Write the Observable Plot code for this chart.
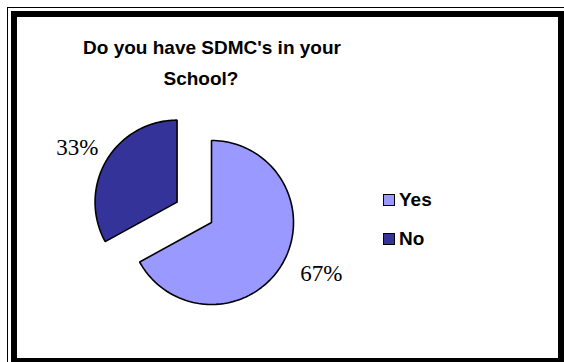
<!DOCTYPE html>
<html><head><meta charset="utf-8">
<script src="https://cdn.jsdelivr.net/npm/d3@7"></script>
<script src="https://cdn.jsdelivr.net/npm/@observablehq/plot@0.6"></script>
<style>
html,body{margin:0;padding:0;background:#fff;}
#wrap{position:relative;width:564px;height:362px;overflow:hidden;background:#fff;}
#wrap svg{position:absolute;left:0;top:0;}
.thin{position:absolute;left:7px;top:7px;width:700px;height:500px;border-left:1.5px solid #000;border-top:1.5px solid #000;}
.thick{position:absolute;left:11px;top:11px;width:553px;height:353px;border:6px solid #000;box-sizing:border-box;}
.title{position:absolute;font:bold 19px "Liberation Sans",Arial,sans-serif;color:#000;white-space:nowrap;transform:translateX(-50%);line-height:1;}
.leg{position:absolute;font:bold 19px "Liberation Sans",Arial,sans-serif;color:#000;white-space:nowrap;line-height:1;display:flex;align-items:center;}
.sw{display:inline-block;width:12px;height:12px;border:1px solid #000;margin-right:4px;box-sizing:border-box;}
</style>
</head><body>
<div id="wrap"></div>
<script>
// ---- data ----
const categories = ["Yes", "No"];
const values = [67, 33];
const labels = ["67%", "33%"];
const colors = ["#9999FF", "#333399"];
const titleLines = ["Do you have SDMC's in your", "School?"];

// ---- layout ----
const W = 564, H = 362;
const cx = 211, cy = 222, R = 82;      // pie centre & radius in px
const explode = [0, 40];               // px offset along mid angle
const labelR = 116;
const labelDx = [10, 0], labelDy = [-8, 5];

const pie = d3.pie().sort(null).value(d => d)(values);
const polys = [];
const labelPts = [];
pie.forEach((p, i) => {
  const mid = (p.startAngle + p.endAngle) / 2;
  const ox = explode[i] * Math.sin(mid) / R, oy = -explode[i] * Math.cos(mid) / R;
  const pts = [{cat: categories[i], x: ox, y: oy}];
  const n = 120;
  for (let k = 0; k <= n; k++) {
    const a = p.startAngle + (p.endAngle - p.startAngle) * k / n;
    pts.push({cat: categories[i], x: ox + Math.sin(a), y: oy - Math.cos(a)});
  }
  pts.push({cat: categories[i], x: ox, y: oy});
  polys.push(pts);
  labelPts.push({label: labels[i],
    x: ox + (labelR * Math.sin(mid) + labelDx[i]) / R,
    y: oy + (-labelR * Math.cos(mid) + labelDy[i]) / R});
});

const chart = Plot.plot({
  width: W, height: H,
  margin: 0,
  x: {domain: [-cx / R, (W - cx) / R], range: [0, W], axis: null},
  y: {domain: [-cy / R, (H - cy) / R], range: [0, H], axis: null},
  style: {background: "transparent", overflow: "visible"},
  marks: [
    ...polys.map((pts, i) => Plot.line(pts, {x: "x", y: "y", fill: colors[i], stroke: "#000", strokeWidth: 1.6, strokeLinejoin: "miter"})),
    Plot.text(labelPts, {x: "x", y: "y", text: "label", fontSize: 23, fontFamily: "Liberation Serif, Times New Roman, serif", fill: "#000", textAnchor: "middle", lineAnchor: "middle"})
  ]
});

const wrap = document.getElementById("wrap");
wrap.insertAdjacentHTML("beforeend", '<div class="thin"></div><div class="thick"></div>');
wrap.appendChild(chart);

// title
const t1 = document.createElement("div"); t1.className = "title"; t1.textContent = titleLines[0];
t1.style.left = "212px"; t1.style.top = "38px"; wrap.appendChild(t1);
const t2 = document.createElement("div"); t2.className = "title"; t2.textContent = titleLines[1];
t2.style.left = "201px"; t2.style.top = "69px"; wrap.appendChild(t2);

// legend
const legTops = [190, 229];
categories.forEach((c, i) => {
  const d = document.createElement("div"); d.className = "leg";
  d.style.left = "383px"; d.style.top = legTops[i] + "px";
  d.innerHTML = `<span class="sw" style="background:${colors[i]}"></span><span>${c}</span>`;
  wrap.appendChild(d);
});
</script>
</body></html>
